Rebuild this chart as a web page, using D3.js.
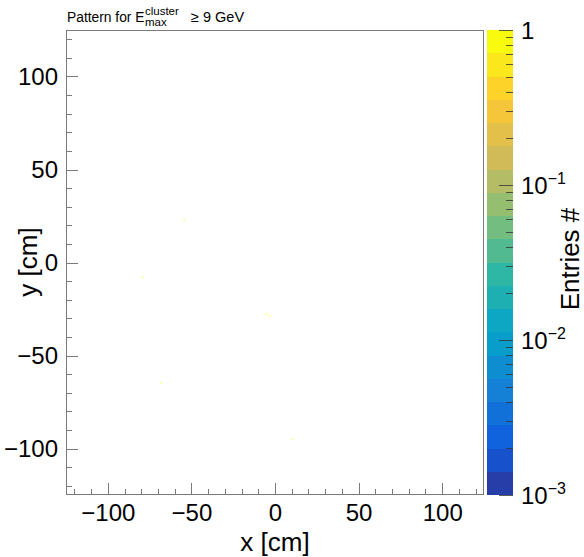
<!DOCTYPE html>
<html><head><meta charset="utf-8">
<script src="https://cdn.jsdelivr.net/npm/d3@7"></script>
<style>body{margin:0;background:#fff}svg{display:block}text{font-family:"Liberation Sans",Arial,Helvetica,sans-serif}</style>
</head><body>
<script>
// ---- data ----
const hitX = [-79.1, -68.2, -54.2, -5.0, -2.8, 10.3];
const hitY = [-8.0, -64.8, 23.2, -27.8, -28.8, -94.7];
const hitValue = [1, 1, 1, 1, 1, 1];
const xTicks = [-100, -50, 0, 50, 100];
const yTicks = [-100, -50, 0, 50, 100];
const zTickLabels = [{v:1, base:"1", exp:""}, {v:0.1, base:"10", exp:"\u22121"}, {v:0.01, base:"10", exp:"\u22122"}, {v:0.001, base:"10", exp:"\u22123"}];
const paletteStops = [0.0, 0.125, 0.25, 0.375, 0.5, 0.625, 0.75, 0.875, 1.0];
const paletteR = [0.2082, 0.0592, 0.0780, 0.0232, 0.1802, 0.5301, 0.8186, 0.9956, 0.9764];
const paletteG = [0.1664, 0.3599, 0.5041, 0.6419, 0.7178, 0.7492, 0.7328, 0.7862, 0.9832];
const paletteB = [0.5293, 0.8684, 0.8385, 0.7914, 0.6425, 0.4662, 0.3499, 0.1968, 0.0539];
const nContours = 20;
const binSize = 1.2;

// ---- layout ----
const W = 584, H = 557;
const L = 66, R = 484, T = 30, B = 495;
const zL = 487, zR = 513;
const labelSize = 24, titleSize = 26;

const svg = d3.select("body").append("svg").attr("width", W).attr("height", H);

const x = d3.scaleLinear().domain([-125, 125]).range([L, R]);
const y = d3.scaleLinear().domain([-125, 125]).range([B, T]);
const z = d3.scaleLog().domain([0.001, 1]).range([B, T]);

// palette
const rI = d3.scaleLinear().domain(paletteStops).range(paletteR);
const gI = d3.scaleLinear().domain(paletteStops).range(paletteG);
const bI = d3.scaleLinear().domain(paletteStops).range(paletteB);
function palColor(t){ return d3.rgb(rI(t)*255, gI(t)*255, bI(t)*255).formatHex(); }
const bandColors = d3.range(nContours).map(i => {
  const idx = Math.floor((i + 0.99) * 255 / nContours);
  return palColor(Math.min(idx, 254) / 254);
});
const logMin = -3, logMax = 0;
function valueColor(v){
  const lv = Math.log10(v);
  let i = Math.floor((lv - logMin) / (logMax - logMin) * nContours);
  i = Math.max(0, Math.min(nContours - 1, i));
  return bandColors[i];
}

// hits
svg.append("g").selectAll("rect").data(hitX.map((d,i)=>({x:d, y:hitY[i], v:hitValue[i]})))
  .join("rect")
  .attr("x", d => x(d.x - binSize/2)).attr("y", d => y(d.y + binSize/2))
  .attr("width", d => x(d.x + binSize/2) - x(d.x - binSize/2))
  .attr("height", d => y(d.y - binSize/2) - y(d.y + binSize/2))
  .attr("fill", d => valueColor(d.v)).attr("fill-opacity", 0.35);

// frame
const tickCol = "#7a7a7a";
svg.append("rect").attr("x", L+0.5).attr("y", T+0.5).attr("width", R-L-1).attr("height", B-T-1)
  .attr("fill", "none").attr("stroke", tickCol).attr("stroke-width", 1);

const fmt = d => d3.format("d")(d).replace("-", "\u2212");

// x axis
const xAxis = d3.axisBottom(x).tickValues(xTicks).tickFormat(fmt).tickSize(0).tickPadding(9);
const gx = svg.append("g").attr("transform", `translate(0,${B})`).call(xAxis);
gx.select(".domain").remove();
gx.selectAll("text").attr("font-size", labelSize).attr("fill", "#000").attr("font-family", "Liberation Sans, Arial, sans-serif");
const minorVals = d3.range(-120, 121, 10);
svg.append("g").selectAll("line").data(minorVals).join("line")
  .attr("x1", d => Math.round(x(d))+0.5).attr("x2", d => Math.round(x(d))+0.5)
  .attr("y1", B).attr("y2", d => B - (d % 50 === 0 ? 12 : 6))
  .attr("stroke", tickCol);

// y axis
const yAxis = d3.axisLeft(y).tickValues(yTicks).tickFormat(fmt).tickSize(0).tickPadding(8);
const gy = svg.append("g").attr("transform", `translate(${L},0)`).call(yAxis);
gy.select(".domain").remove();
gy.selectAll("text").attr("font-size", labelSize).attr("fill", "#000").attr("font-family", "Liberation Sans, Arial, sans-serif");
svg.append("g").selectAll("line").data(minorVals).join("line")
  .attr("y1", d => Math.round(y(d))+0.5).attr("y2", d => Math.round(y(d))+0.5)
  .attr("x1", L).attr("x2", d => L + (d % 50 === 0 ? 12 : 6))
  .attr("stroke", tickCol);

// axis titles
svg.append("text").attr("x", 275).attr("y", 551).attr("text-anchor", "middle").attr("font-size", titleSize).text("x [cm]");
svg.append("text").attr("transform", "translate(37,262) rotate(-90)").attr("text-anchor", "middle").attr("font-size", titleSize).text("y [cm]");

// color bar
const bandEdges = d3.range(nContours + 1).map(i => Math.pow(10, logMin + i * (logMax - logMin) / nContours));
svg.append("g").selectAll("rect").data(d3.range(nContours)).join("rect")
  .attr("x", zL).attr("width", zR - zL)
  .attr("y", i => z(bandEdges[i+1])).attr("height", i => z(bandEdges[i]) - z(bandEdges[i+1]))
  .attr("fill", i => bandColors[i]).attr("shape-rendering", "crispEdges");

const zTicks = [];
[0.001, 0.01, 0.1].forEach(dec => { for (let k = 1; k <= 9; k++) zTicks.push({v: dec*k, major: k === 1}); });
zTicks.push({v: 1, major: true});
svg.append("g").selectAll("line").data(zTicks).join("line")
  .attr("x1", zR).attr("x2", d => zR - (d.major ? 14 : 7))
  .attr("y1", d => Math.round(z(d.v))+0.5).attr("y2", d => Math.round(z(d.v))+0.5)
  .attr("stroke", "#333").attr("stroke-opacity", 0.8);

const zl = svg.append("g").selectAll("text").data(zTickLabels).join("text")
  .attr("x", 521).attr("y", d => z(d.v) + 8.5).attr("font-size", labelSize);
zl.append("tspan").text(d => d.base);
zl.filter(d => d.exp).append("tspan").attr("dy", -10).attr("font-size", 16).text(d => d.exp);

svg.append("text").attr("transform", "translate(579,259) rotate(-90)").attr("text-anchor", "middle").attr("font-size", titleSize).text("Entries #");

// title
const t1 = svg.append("text").attr("x", 67).attr("y", 21.5).attr("font-size", 13.8).text("Pattern for E");
const ex = 67 + t1.node().getComputedTextLength() + 0.5;
svg.append("text").attr("x", ex).attr("y", 15).attr("font-size", 11.5).text("cluster");
svg.append("text").attr("x", ex).attr("y", 26).attr("font-size", 11.5).text("max");
svg.append("text").attr("x", Math.max(190.5, ex + 46)).attr("y", 21.5).attr("font-size", 14.5).text("\u2265 9 GeV");
</script>
</body></html>
